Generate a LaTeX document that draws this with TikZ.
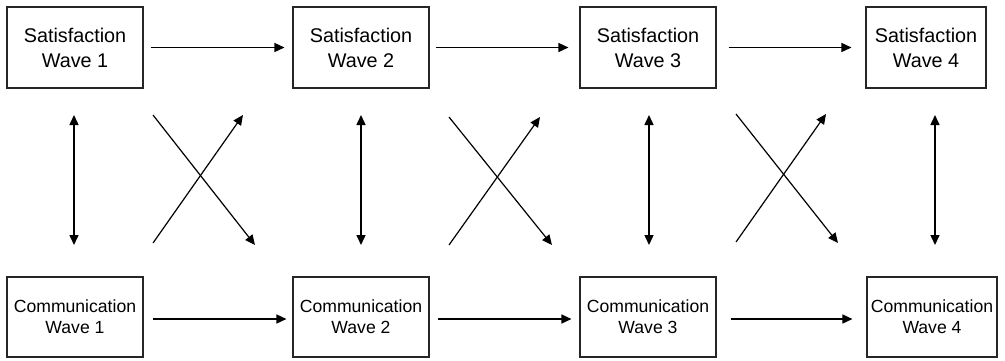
\documentclass[tikz,border=0pt]{standalone}
\usepackage{fontspec}
\setmainfont{Liberation Sans}
\usetikzlibrary{arrows.meta}
\begin{document}
\begin{tikzpicture}[x=1pt,y=-1pt,
  box/.style={draw=black!85,line width=1.1pt,inner sep=0pt,align=center,minimum height=81pt},
  sat/.style={box,font=\fontsize{19.8}{25}\selectfont},
  com/.style={box,font=\fontsize{17.6}{21}\selectfont},
  arr/.style={line width=1.5pt,-{Triangle[length=10pt,width=9pt]}},
  darr/.style={line width=1.5pt,{Triangle[length=10pt,width=9pt]}-{Triangle[length=10pt,width=9pt]}},
  xarr/.style={line width=1.2pt,-{Triangle[length=10pt,width=9pt]}}]
\useasboundingbox (0,0) rectangle (1005,360);
% top row
\node[sat,minimum width=136pt] (s1) at (75,47.5) {Satisfaction\\Wave 1};
\node[sat,minimum width=136pt] (s2) at (361,47.5) {Satisfaction\\Wave 2};
\node[sat,minimum width=136pt] (s3) at (648,47.5) {Satisfaction\\Wave 3};
\node[sat,minimum width=120pt] (s4) at (926,47.5) {Satisfaction\\Wave 4};
% bottom row
\node[com,minimum width=136pt,minimum height=80pt] (c1) at (75,317) {Communication\\Wave 1};
\node[com,minimum width=136pt,minimum height=80pt] (c2) at (361,317) {Communication\\Wave 2};
\node[com,minimum width=136pt,minimum height=80pt] (c3) at (648,317) {Communication\\Wave 3};
\node[com,minimum width=130pt,minimum height=80pt] (c4) at (932,317) {Communication\\Wave 4};
% horizontal arrows
\draw[arr,shorten <=7pt,shorten >=8pt] (s1.east) -- (s2.west);
\draw[arr,shorten <=6pt,shorten >=11pt] (s2.east) -- (s3.west);
\draw[arr,shorten <=12pt,shorten >=14pt] (s3.east) -- (s4.west);
\draw[arr,shorten <=9pt,shorten >=6pt] ([yshift=-2pt]c1.east) -- ([yshift=-2pt]c2.west);
\draw[arr,shorten <=8pt,shorten >=8pt] ([yshift=-2pt]c2.east) -- ([yshift=-2pt]c3.west);
\draw[arr,shorten <=14pt,shorten >=14pt] ([yshift=-2pt]c3.east) -- ([yshift=-2pt]c4.west);
% vertical double arrows
\coordinate (v1a) at (74,115); \coordinate (v1b) at (74,245);
\coordinate (v2a) at (361,115); \coordinate (v2b) at (361,245);
\coordinate (v3a) at (649,115); \coordinate (v3b) at (649,245);
\coordinate (v4a) at (935,115); \coordinate (v4b) at (935,245);
\draw[darr] (v1a) -- (v1b);
\draw[darr] (v2a) -- (v2b);
\draw[darr] (v3a) -- (v3b);
\draw[darr] (v4a) -- (v4b);
% crosses
\coordinate (x1a) at (153,115); \coordinate (x1b) at (255,245);
\coordinate (x1c) at (153,243); \coordinate (x1d) at (243,115);
\coordinate (x2a) at (449,117); \coordinate (x2b) at (552,245);
\coordinate (x2c) at (449,245); \coordinate (x2d) at (540,117);
\coordinate (x3a) at (736,114); \coordinate (x3b) at (838,243);
\coordinate (x3c) at (736,242); \coordinate (x3d) at (826,114);
\draw[xarr] (x1a) -- (x1b);
\draw[xarr] (x1c) -- (x1d);
\draw[xarr] (x2a) -- (x2b);
\draw[xarr] (x2c) -- (x2d);
\draw[xarr] (x3a) -- (x3b);
\draw[xarr] (x3c) -- (x3d);
\end{tikzpicture}
\end{document}
